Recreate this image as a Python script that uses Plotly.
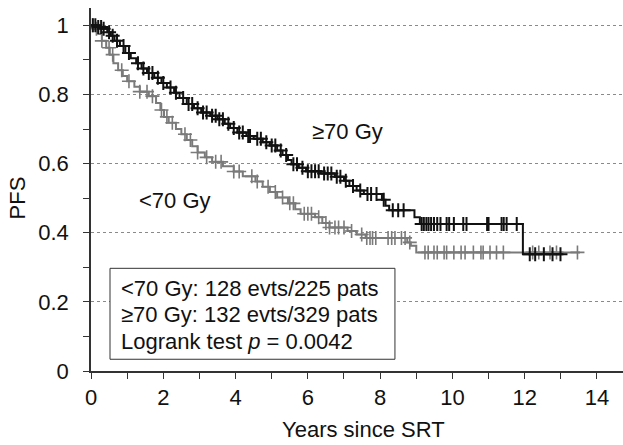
import numpy as np
import plotly.graph_objects as go

FONT = "Arial, 'Liberation Sans', sans-serif"

# Kaplan-Meier step estimates: time of each drop (years) and survival after it
hi_times = [0.0, 0.15, 0.3, 0.45, 0.55, 0.65, 0.8, 0.95, 1.1, 1.25, 1.4, 1.55, 1.75,
            1.95, 2.1, 2.3, 2.45, 2.65, 2.85, 3.05, 3.3, 3.5, 3.7, 3.85, 4.05, 4.3,
            4.5, 4.75, 4.95, 5.15, 5.3, 5.45, 5.55, 5.75, 5.95, 6.35, 6.75, 7.0,
            7.15, 7.35, 7.55, 8.05, 8.15, 8.25, 8.95, 9.1, 11.95]
hi_surv = [1.0, 0.995, 0.99, 0.98, 0.97, 0.955, 0.94, 0.92, 0.905, 0.89, 0.875, 0.862,
           0.848, 0.833, 0.82, 0.805, 0.79, 0.772, 0.76, 0.748, 0.738, 0.728, 0.715,
           0.703, 0.69, 0.68, 0.672, 0.662, 0.652, 0.638, 0.625, 0.61, 0.598, 0.588,
           0.578, 0.571, 0.562, 0.55, 0.535, 0.522, 0.512, 0.495, 0.478, 0.465, 0.445,
           0.425, 0.338]
hi_end = 13.07

lo_times = [0.0, 0.1, 0.2, 0.3, 0.42, 0.52, 0.62, 0.75, 0.88, 1.0, 1.2, 1.35, 1.6,
            1.8, 1.92, 2.02, 2.15, 2.35, 2.5, 2.65, 2.8, 2.95, 3.15, 3.35, 3.65, 3.95,
            4.2, 4.55, 4.75, 4.95, 5.15, 5.45, 5.65, 5.8, 6.2, 6.4, 6.6, 7.1, 7.35,
            7.6, 8.75, 8.85, 9.0]
lo_surv = [1.0, 0.99, 0.975, 0.955, 0.935, 0.915, 0.89, 0.87, 0.853, 0.838, 0.822,
           0.808, 0.795, 0.775, 0.755, 0.735, 0.718, 0.7, 0.685, 0.668, 0.65, 0.632,
           0.618, 0.605, 0.592, 0.577, 0.563, 0.548, 0.533, 0.518, 0.502, 0.485,
           0.468, 0.455, 0.445, 0.428, 0.415, 0.405, 0.395, 0.385, 0.372, 0.362, 0.343]
lo_end = 13.53

# Censoring times (years)
hi_cens = [0.05, 0.12, 0.2, 0.28, 0.35, 0.5, 0.6, 0.72, 0.9, 1.05, 1.3, 1.45, 1.6, 1.7,
           1.85, 2.0, 2.2, 2.35, 2.55, 2.7, 2.8, 2.95, 3.1, 3.2, 3.35, 3.45, 3.55, 3.65,
           3.8, 3.95, 4.1, 4.2, 4.35, 4.4, 4.6, 4.7, 4.85, 5.0, 5.1, 5.25, 5.4, 5.6,
           5.7, 5.85, 6.0, 6.1, 6.2, 6.3, 6.45, 6.55, 6.65, 6.8, 6.9, 7.05, 7.25, 7.45,
           7.65, 7.75, 7.9, 8.1, 8.35, 8.5, 8.65, 9.15, 9.21, 9.28, 9.34, 9.41, 9.49,
           9.58, 9.67, 9.84, 9.91, 10.04, 10.3, 10.39, 10.96, 11.0, 11.36, 11.42, 11.5,
           11.78, 12.14, 12.29, 12.53, 12.77, 12.99]
lo_cens = [0.05, 0.15, 0.3, 0.5, 0.6, 0.85, 1.05, 1.35, 1.55, 1.7, 1.95, 2.1, 2.25, 2.6,
           2.75, 2.95, 3.2, 3.45, 3.6, 3.95, 4.1, 4.45, 4.6, 4.9, 5.1, 5.3, 5.5, 5.6,
           5.9, 6.0, 6.1, 6.3, 6.5, 6.6, 6.75, 6.85, 7.0, 7.21, 7.49, 7.63, 7.72, 7.79,
           7.88, 8.22, 8.32, 8.41, 8.59, 8.69, 8.82, 9.24, 9.33, 9.49, 9.58, 9.77, 9.84,
           10.04, 10.24, 10.35, 10.58, 10.79, 10.85, 11.04, 11.22, 11.41, 12.22, 12.39,
           12.7, 12.88, 13.46]

BLACK = "#111111"
GRAY = "#7a7a7a"


def step_value(times, surv, t):
    idx = np.searchsorted(np.asarray(times), np.asarray(t), side="right") - 1
    return np.asarray(surv)[idx]


fig = go.Figure()

for times, surv, end, cens, color, mw, name in [
    (lo_times, lo_surv, lo_end, lo_cens, GRAY, 1.6, "<70 Gy"),
    (hi_times, hi_surv, hi_end, hi_cens, BLACK, 2.0, "≥70 Gy"),
]:
    fig.add_trace(go.Scatter(
        x=list(times) + [end], y=list(surv) + [surv[-1]],
        mode="lines", line=dict(color=color, width=2, shape="hv"),
        name=name, showlegend=False, hoverinfo="skip"))
    fig.add_trace(go.Scatter(
        x=cens, y=step_value(times, surv, cens),
        mode="markers",
        marker=dict(symbol="cross-thin", size=10, line=dict(color=color, width=mw)),
        showlegend=False, hoverinfo="skip"))

# Statistics box
fig.add_shape(type="rect", xref="x", yref="y", x0=0.526, x1=8.41, y0=0.034, y1=0.297,
              line=dict(color="#333333", width=1), fillcolor="white", layer="above")
box_lines = ["&lt;70 Gy: 128 evts/225 pats",
             "≥70 Gy: 132 evts/329 pats",
             "Logrank test <i>p</i> = 0.0042"]
for txt, yv in zip(box_lines, [0.240, 0.162, 0.084]):
    fig.add_annotation(x=0.77, y=yv, xref="x", yref="y", text=txt, showarrow=False,
                       xanchor="left", yanchor="middle",
                       font=dict(family=FONT, size=22, color="#111111"))

# Group labels
fig.add_annotation(x=6.06, y=0.694, text="≥70 Gy", showarrow=False, xanchor="left",
                   yanchor="middle", font=dict(family=FONT, size=22, color="#111111"))
fig.add_annotation(x=1.26, y=0.492, text="&lt;70 Gy", showarrow=False, xanchor="left",
                   yanchor="middle", font=dict(family=FONT, size=22, color="#111111"))

# Axis titles
fig.add_annotation(x=0.5126, y=-0.1625, xref="paper", yref="paper", text="Years since SRT",
                   showarrow=False, xanchor="center", yanchor="middle",
                   font=dict(family=FONT, size=22, color="#111111"))
fig.add_annotation(x=-0.138, y=0.477, xref="paper", yref="paper", text="PFS",
                   textangle=-90, showarrow=False, xanchor="center", yanchor="middle",
                   font=dict(family=FONT, size=22, color="#111111"))

fig.update_xaxes(range=[0, 14.72], tickmode="array", tickvals=[0, 2, 4, 6, 8, 10, 12, 14],
                 ticks="outside", ticklen=6, tickcolor="#333333", showgrid=False,
                 showline=True, linecolor="#333333", linewidth=1.5, zeroline=False,
                 minor=dict(dtick=1, ticks="outside", ticklen=6, tickcolor="#333333",
                            showgrid=False),
                 tickfont=dict(family=FONT, size=22, color="#111111"))
fig.update_yaxes(range=[0, 1.05], tickmode="array", tickvals=[0, 0.2, 0.4, 0.6, 0.8, 1.0],
                 ticktext=["0", "0.2", "0.4", "0.6", "0.8", "1"],
                 ticks="outside", ticklen=6, tickcolor="#333333", ticklabelstandoff=10,
                 showgrid=True, gridcolor="#8a8a8a", griddash="dot", gridwidth=1,
                 showline=True, linecolor="#333333", linewidth=1.5, zeroline=False,
                 minor=dict(dtick=0.1, tick0=0, ticks="outside", ticklen=6,
                            tickcolor="#333333", showgrid=False),
                 tickfont=dict(family=FONT, size=22, color="#111111"))

fig.update_layout(width=623, height=445, margin=dict(l=91, r=0, t=8, b=74),
                  plot_bgcolor="white", paper_bgcolor="white", showlegend=False)

fig.write_html("out.html")
